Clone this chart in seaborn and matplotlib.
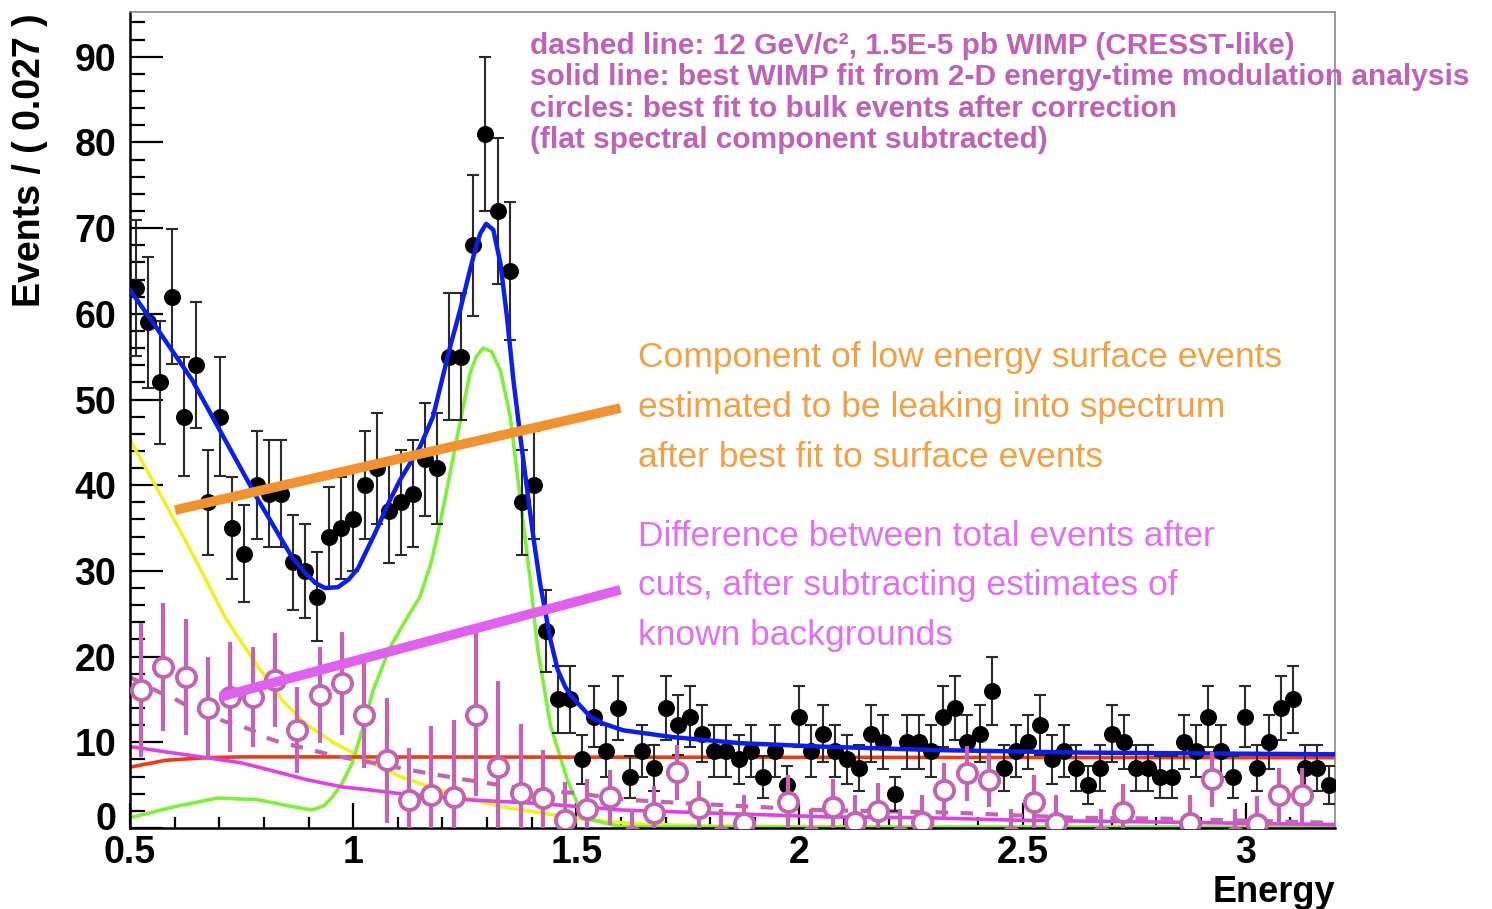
import numpy as np
import pandas as pd
import matplotlib
matplotlib.use("Agg")
import matplotlib.pyplot as plt
import matplotlib.transforms as mtransforms
import seaborn as sns

# ---------------- data ----------------
# black points: events per 0.027 bin, 100 bins from 0.5 to 3.2
bin_width = 0.027
counts = [63, 59, 52, 62, 48, 54, 38, 48, 35, 32, 40, 39, 39, 31, 30, 27, 34, 35, 36, 40,
          42, 37, 38, 39, 43, 42, 55, 55, 68, 81, 72, 65, 38, 40, 23, 15, 15,
          8, 13, 9, 14, 6, 9, 7, 14, 12, 13, 11, 9, 9, 8, 9, 6, 9, 5, 13, 9,
          11, 9, 8, 7, 11, 10, 4, 10, 10, 9, 13, 14, 10, 11, 16, 7, 9, 10, 12, 8, 9, 7,
          5, 7, 11, 10, 7, 7, 6, 6, 10, 9, 13, 9, 6, 13, 7, 10, 14, 15, 7, 7, 5]

# open circles: corrected bulk events (0.05 bins)
circ_width = 0.05
circ_vals = [16.1, 18.8, 17.6, 14.0, 15.3, 15.3, 17.3, 11.4, 15.5, 16.9,
             13.2, 7.9, 3.3, 3.9, 3.6, 13.2, 7.1, 4.1, 3.5, 0.9,
             2.2, 3.6, -1.0, 1.7, 6.5, 2.3, -1.0, 0.6, -3.5, 3.0,
             -1.0, 2.5, 0.7, 2.0, -1.0, 0.7, 4.4, 6.4, 5.6, -1.0,
             3.0, 0.6, -3.5, -1.0, 1.9, -3.5, -3.5, 0.6, 5.7, -1.0,
             0.5, 3.8, 3.8, -3.5]
circ_errs = [7.8, 7.5, 6.8, 6.0, 6.4, 5.8, 5.5, 5.0, 5.6, 6.0,
             6.2, 7.3, 6.0, 8.0, 9.0, 9.5, 10.0, 8.0, 5.6, 4.5,
             3.5] + [3.2] * 33

# total fit (blue)
blue_E = [0.5, 0.563, 0.639, 0.713, 0.787, 0.863, 0.892, 0.915, 0.937, 0.966, 0.99, 1.011,
          1.049, 1.08, 1.105, 1.150, 1.179, 1.217, 1.24, 1.256, 1.272, 1.285, 1.298, 1.314,
          1.330, 1.345, 1.359, 1.375, 1.390, 1.405, 1.419, 1.442, 1.458, 1.475, 1.487,
          1.531, 1.56, 1.605, 1.717, 1.867, 2.047, 2.30, 2.63, 3.2]
blue_v = [62.8, 58.1, 52.3, 45.3, 38.3, 31.6, 29.8, 28.6, 28.0, 28.1, 29.0, 30.3,
          34.4, 38.0, 40.6, 44.5, 48.0, 56.1, 60.5, 63.9, 67.2, 69.4, 70.5, 69.8,
          65.9, 59.5, 52.3, 45.5, 39.4, 33.5, 28.5, 22.0, 18.5, 16.5, 15.5,
          13.0, 12.2, 11.4, 10.6, 9.9, 9.5, 9.1, 8.8, 8.6]

# peak component (green)
green_E = [0.5, 0.601, 0.697, 0.787, 0.863, 0.908, 0.935, 0.953, 0.975, 0.998, 1.027, 1.045,
           1.083, 1.115, 1.150, 1.175, 1.195, 1.215, 1.233, 1.262, 1.276, 1.291, 1.31, 1.330,
           1.352, 1.374, 1.397, 1.413, 1.442, 1.480, 1.505, 1.531, 1.599, 2.0, 3.2]
green_v = [1.2, 2.5, 3.5, 3.3, 2.5, 2.1, 2.6, 3.6, 5.2, 7.6, 12.6, 16.1,
           21.1, 24.0, 27.0, 31.0, 35.6, 40.8, 45.6, 53.1, 55.0, 56.0, 55.6, 53.4,
           48.0, 38.6, 28.9, 21.1, 12.0, 5.6, 2.6, 1.0, 0.15, 0.1, 0.1]

# low-energy exponential (yellow)
yellow_E = [0.5, 0.563, 0.639, 0.713, 0.747, 0.787, 0.841, 0.892, 0.955, 1.031, 1.105,
            1.179, 1.256, 1.330, 1.404, 1.516, 1.628, 1.778, 2.0, 3.2]
yellow_v = [45.3, 39.4, 32.1, 24.6, 21.9, 18.8, 14.9, 12.2, 10.0, 7.9, 6.0,
            4.7, 3.5, 2.5, 1.9, 1.0, 0.5, 0.25, 0.15, 0.1]

# flat component (red)
red_E = [0.5, 0.58, 0.67, 0.75, 3.2]
red_v = [7.1, 7.9, 8.2, 8.3, 8.2]

# best WIMP fit (solid magenta)
wsol_E = [0.5, 0.578, 0.672, 0.75, 0.825, 0.899, 0.975, 1.045, 1.105, 1.256, 1.404,
          1.554, 1.6, 1.83, 2.06, 2.28, 2.5, 2.8, 3.2]
wsol_v = [9.5, 8.9, 8.2, 7.6, 6.6, 5.6, 4.8, 4.4, 4.0, 3.3, 2.9,
          2.3, 2.1, 1.7, 1.3, 1.2, 0.9, 0.7, 0.4]

# CRESST-like WIMP (dashed)
wdash_E = [0.5, 0.563, 0.596, 0.623, 0.713, 0.742, 0.774, 0.803, 0.836, 0.877, 0.922,
           0.953, 1.011, 1.045, 1.105, 1.166, 1.256, 1.330, 1.404, 1.493, 1.614,
           1.740, 1.890, 2.040, 2.34, 2.614, 2.81, 3.123, 3.2]
wdash_v = [17.6, 15.9, 15.2, 14.4, 12.4, 12.0, 11.4, 10.6, 10.0, 9.5, 8.9,
           8.5, 7.9, 7.6, 7.0, 6.4, 5.6, 5.0, 4.4, 4.1, 3.3,
           2.9, 2.5, 2.1, 1.8, 1.2, 1.1, 0.7, 0.6]

# hand-drawn trend lines
orange_E = [0.601, 1.599]
orange_v = [37.1, 49.0]
violet_E = [0.702, 1.599]
violet_v = [15.3, 27.8]

legend_lines = ["dashed line: 12 GeV/c², 1.5E-5 pb WIMP (CRESST-like)",
                "solid line: best WIMP fit from 2-D energy-time modulation analysis",
                "circles: best fit to bulk events after correction",
                "(flat spectral component subtracted)"]
orange_lines = ["Component of low energy surface events",
                "estimated to be leaking into spectrum",
                "after best fit to surface events"]
violet_lines = ["Difference between total events after",
                "cuts, after subtracting estimates of",
                "known backgrounds"]

x_ticks = [0.5, 1, 1.5, 2, 2.5, 3]
x_tick_labels = ["0.5", "1", "1.5", "2", "2.5", "3"]
y_ticks = [0, 10, 20, 30, 40, 50, 60, 70, 80, 90]

# ---------------- build frames ----------------
E_bins = 0.5 + bin_width * (np.arange(len(counts)) + 0.5)
df_pts = pd.DataFrame({"E": E_bins, "N": counts})
df_pts["err"] = np.sqrt(df_pts["N"])

E_circ = 0.5 + circ_width * (np.arange(len(circ_vals)) + 0.5)
df_circ = pd.DataFrame({"E": E_circ, "v": circ_vals, "err": circ_errs})

# ---------------- style ----------------
sns.set_theme(style="ticks")
plt.rcParams["font.family"] = ["Liberation Sans", "DejaVu Sans"]

W, H = 1492, 909
fig = plt.figure(figsize=(W / 100, H / 100), dpi=100)
ax = fig.add_axes([130 / W, 1 - 828 / H, (1335 - 130) / W, (828 - 12) / H])


def fpos(x, y):
    return (x / W, 1 - y / H)


# model curves
sns.lineplot(x=yellow_E, y=yellow_v, ax=ax, color="#f2f020", lw=2.6, estimator=None, zorder=2)
sns.lineplot(x=green_E, y=green_v, ax=ax, color="#7ef03a", lw=2.6, estimator=None, zorder=2)
sns.lineplot(x=red_E, y=red_v, ax=ax, color="#f03a14", lw=2.6, estimator=None, zorder=2)
sns.lineplot(x=wsol_E, y=wsol_v, ax=ax, color="#e040e6", lw=2.6, estimator=None, zorder=2)
sns.lineplot(x=wdash_E, y=wdash_v, ax=ax, color="#c462b4", lw=3.0, estimator=None,
             linestyle=(0, (3, 3)), zorder=2)

# black data points
ax.errorbar(df_pts["E"], df_pts["N"], yerr=df_pts["err"], fmt="none", ecolor="#2a2a2a",
            elinewidth=1.5, capsize=4, capthick=1.5, zorder=3)
sns.scatterplot(data=df_pts, x="E", y="N", ax=ax, color="black", s=150, edgecolor="black",
                linewidth=0, zorder=4)

# blue total fit
sns.lineplot(x=blue_E, y=blue_v, ax=ax, color="#0a1ef0", lw=3.2, estimator=None, zorder=5)

# open circles
ax.errorbar(df_circ["E"], df_circ["v"], yerr=df_circ["err"], fmt="none", ecolor="#c462b4",
            elinewidth=3.0, capsize=0, zorder=6)
sns.scatterplot(data=df_circ, x="E", y="v", ax=ax, color="white", s=190, edgecolor="#c462b4",
                linewidth=2.8, zorder=7)

# hand-drawn trend lines
sns.lineplot(x=orange_E, y=orange_v, ax=ax, color="#f0922e", lw=7, estimator=None, zorder=8,
             solid_capstyle="butt")
sns.lineplot(x=violet_E, y=violet_v, ax=ax, color="#e060f0", lw=7, estimator=None, zorder=8,
             solid_capstyle="butt")

# axes
ax.set_xlim(0.5, 3.2)
ax.set_ylim(0, (828 - 12) / 8.57)
ax.set_xticks(x_ticks)
ax.set_xticklabels(x_tick_labels)
ax.set_yticks(y_ticks)
ax.set_yticklabels([str(t) for t in y_ticks])
ax.set_xticks(np.arange(0.6, 3.2, 0.1), minor=True)
ax.set_yticks(np.arange(2, 95, 2), minor=True)
ax.tick_params(axis="both", which="both", direction="in", colors="black", labelsize=27,
               top=False, right=False)
ax.tick_params(axis="y", which="major", length=24, width=1.6, pad=10)
ax.tick_params(axis="y", which="minor", length=11, width=1.6)
ax.tick_params(axis="x", which="major", length=18, width=1.6, pad=5)
ax.tick_params(axis="x", which="minor", length=8, width=1.6)
for lab in ax.get_xticklabels() + ax.get_yticklabels():
    lab.set_fontweight("bold")
# nudge the "0" y label up a little so it clears the "0.5" below it
ylabs = ax.get_yticklabels()
ylabs[0].set_transform(ylabs[0].get_transform() +
                       mtransforms.ScaledTranslation(0, 9 / 72, fig.dpi_scale_trans))
ax.set_xlabel("")
ax.set_ylabel("")
for side in ["left", "bottom"]:
    ax.spines[side].set_color("black")
    ax.spines[side].set_linewidth(1.8)
for side in ["top", "right"]:
    ax.spines[side].set_visible(True)
    ax.spines[side].set_color("#888888")
    ax.spines[side].set_linewidth(1.2)

# axis titles
fig.text(*fpos(30, 160), "Events / ( 0.027 )", rotation=90, ha="center", va="center",
         fontsize=27, fontweight="bold", color="black")
fig.text(*fpos(1335, 893), "Energy", ha="right", va="center", fontsize=26,
         fontweight="bold", color="black")

# legend block
for i, line in enumerate(legend_lines):
    fig.text(*fpos(530, 46 + 31.3 * i), line, ha="left", va="center", fontsize=21.5,
             fontweight="bold", color="#c060b8")

for i, line in enumerate(orange_lines):
    fig.text(*fpos(638, 358 + 49.5 * i), line, ha="left", va="center", fontsize=25.5,
             color="#f2a040")
for i, line in enumerate(violet_lines):
    fig.text(*fpos(638, 537 + 49 * i), line, ha="left", va="center", fontsize=25.5,
             color="#e46ef2")

fig.savefig("out.png", dpi=100)
